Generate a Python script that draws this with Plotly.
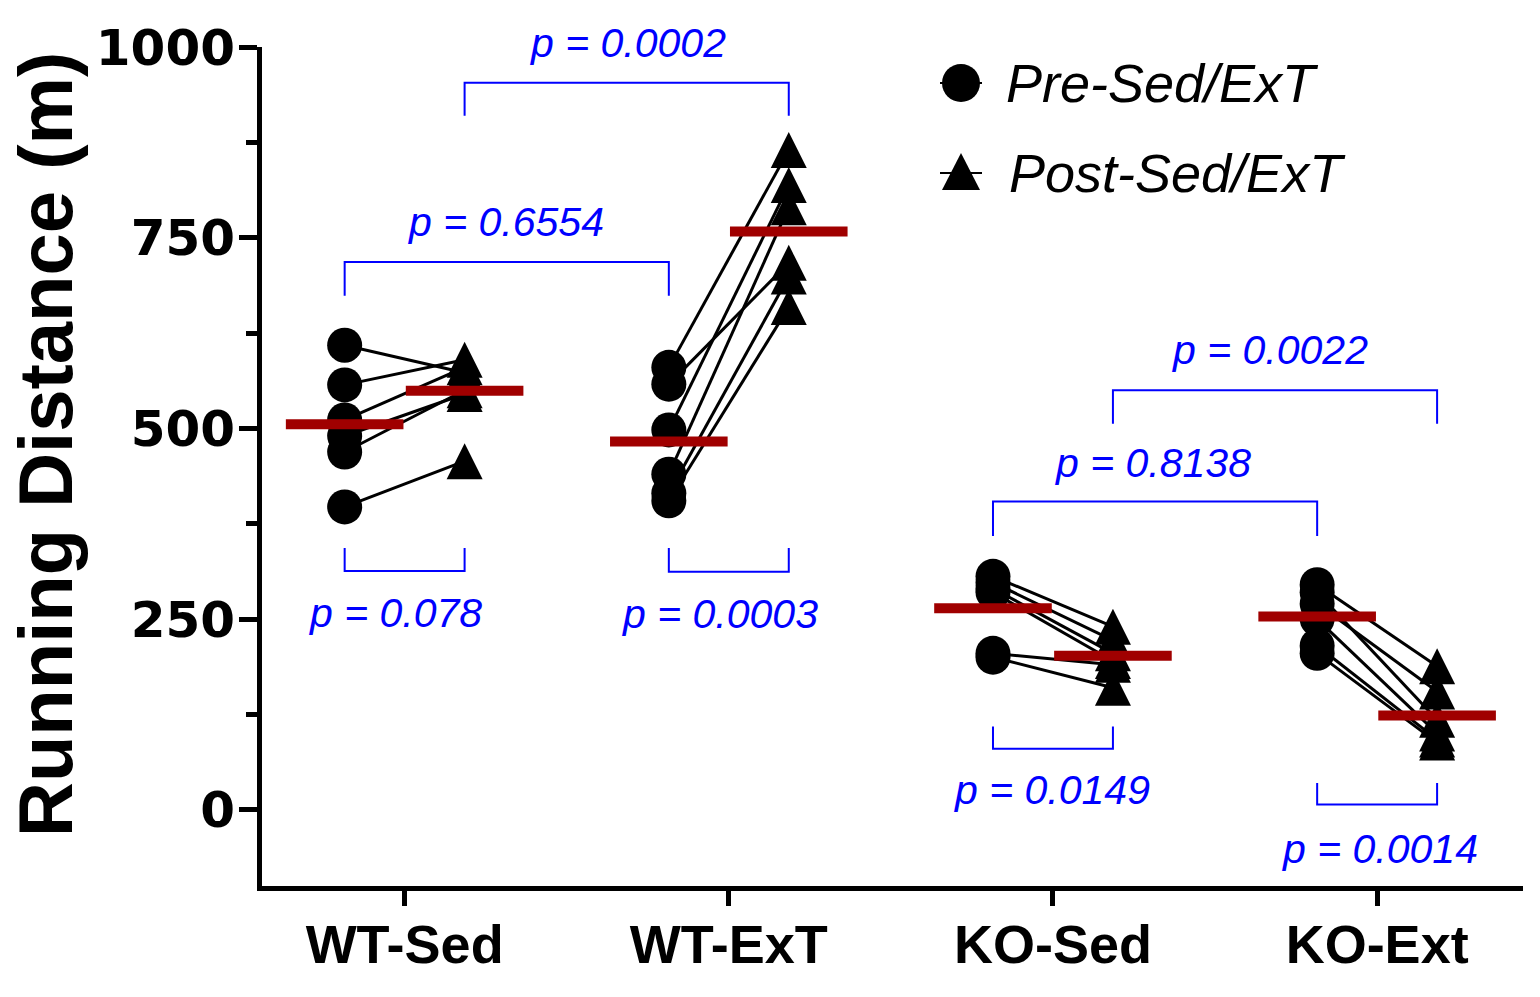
import numpy as np
import plotly.graph_objects as go

# ---------------- data ----------------
groups = ["WT-Sed", "WT-ExT", "KO-Sed", "KO-Ext"]

wt_sed_pre = [609, 557, 511, 490, 469, 397]
wt_sed_post = [573, 590, 580, 545, 550, 457]

wt_ext_pre = [580, 558, 498, 440, 415, 405]
wt_ext_post = [865, 717, 819, 790, 699, 659]

ko_sed_pre = [306, 298, 290, 285, 205, 200]
ko_sed_post = [240, 222, 205, 195, 190, 160]

ko_ext_pre = [295, 285, 270, 250, 215, 205]
ko_ext_post = [188, 118, 155, 100, 92, 88]

series_names = ["Pre-Sed/ExT", "Post-Sed/ExT"]

p_labels = ["p = 0.078", "p = 0.0003", "p = 0.6554", "p = 0.0002",
            "p = 0.0149", "p = 0.0014", "p = 0.8138", "p = 0.0022"]

pre_all = [wt_sed_pre, wt_ext_pre, ko_sed_pre, ko_ext_pre]
post_all = [wt_sed_post, wt_ext_post, ko_sed_post, ko_ext_post]

# ---------------- layout constants ----------------
OFF = 0.185
BLUE = "#0000FF"
RED = "#A00000"
YMIN, YMAX = -100, 1000
W, H = 1540, 997
# plot-area edges in pixels
L, R, T, B = 262, 1523, 47, 886


def xp(p):
    return (p - L) / (R - L)


def yp(p):
    return (B - p) / (B - T)


def ydata_to_paper(v):
    return (v - YMIN) / (YMAX - YMIN)


fig = go.Figure()

# connecting lines
lx, ly = [], []
for gi, (pre, post) in enumerate(zip(pre_all, post_all)):
    for a, b in zip(pre, post):
        lx += [gi - OFF, gi + OFF, None]
        ly += [a, b, None]
fig.add_trace(go.Scatter(x=lx, y=ly, mode="lines",
                         line=dict(color="black", width=3),
                         showlegend=False, hoverinfo="skip"))

# pre circles
px_, py_ = [], []
for gi, pre in enumerate(pre_all):
    px_ += [gi - OFF] * len(pre)
    py_ += pre
fig.add_trace(go.Scatter(x=px_, y=py_, mode="markers", name=series_names[0],
                         marker=dict(symbol="circle", size=35, color="black"),
                         showlegend=False, cliponaxis=False))

# post triangles (centered triangle)
qx_, qy_ = [], []
for gi, post in enumerate(post_all):
    qx_ += [gi + OFF] * len(post)
    qy_ += post
TRI = 36
fig.add_trace(go.Scatter(x=qx_, y=qy_, mode="markers", name=series_names[1],
                         marker=dict(symbol="arrow-down", size=TRI, color="black",
                                     angle=180, standoff=TRI / 2),
                         showlegend=False, cliponaxis=False))

# mean bars
mx, my = [], []
for gi, (pre, post) in enumerate(zip(pre_all, post_all)):
    mx += [gi - OFF, gi + OFF]
    my += [float(np.mean(pre)), float(np.mean(post))]
fig.add_trace(go.Scatter(x=mx, y=my, mode="markers",
                         marker=dict(symbol="line-ew", size=84,
                                     line=dict(color=RED, width=10)),
                         showlegend=False, hoverinfo="skip"))

# ---------------- brackets ----------------
# (x0, x1, bar_y, leg_end_y, text_x, text_y)
brackets = [
    (0 - OFF, 0 + OFF, 313, 343, 0 - 0.03, 258),
    (1 - OFF, 1 + OFF, 312, 343, 1 - 0.03, 256),
    (0 - OFF, 1 - OFF, 718, 674, 0.31, 771),
    (0 + OFF, 1 + OFF, 953, 910, 0.687, 1005),
    (2 - OFF, 2 + OFF, 80, 109, 2 - 0.003, 26),
    (3 - OFF, 3 + OFF, 7, 35, 3 + 0.008, -52),
    (2 - OFF, 3 - OFF, 404, 359, 2.308, 455),
    (2 + OFF, 3 + OFF, 550, 506, 2.669, 603),
]
shapes = []
annotations = []
for (x0, x1, yb, yl, tx, ty), lab in zip(brackets, p_labels):
    shapes.append(dict(type="path", xref="x", yref="y",
                       path=f"M {x0},{yl} L {x0},{yb} L {x1},{yb} L {x1},{yl}",
                       line=dict(color=BLUE, width=2)))
    annotations.append(dict(x=tx, y=ydata_to_paper(ty), xref="x", yref="paper",
                            text=lab, showarrow=False,
                            xanchor="center", yanchor="middle",
                            font=dict(family="Liberation Sans, Arial", size=41,
                                      color=BLUE, style="italic")))

# ---------------- legend (manual) ----------------
leg_x = xp(961)
for yy in (yp(83), yp(173)):
    shapes.append(dict(type="line", xref="paper", yref="paper",
                       xsizemode="pixel", ysizemode="pixel",
                       xanchor=leg_x, yanchor=yy, x0=-21, x1=21, y0=0, y1=0,
                       line=dict(color="black", width=2)))
shapes.append(dict(type="circle", xref="paper", yref="paper",
                   xsizemode="pixel", ysizemode="pixel",
                   xanchor=leg_x, yanchor=yp(83), x0=-19, x1=19, y0=-19, y1=19,
                   fillcolor="black", line=dict(color="black", width=0)))
shapes.append(dict(type="path", xref="paper", yref="paper",
                   xsizemode="pixel", ysizemode="pixel",
                   xanchor=leg_x, yanchor=yp(173),
                   path="M -19,-17 L 19,-17 L 0,20 Z",
                   fillcolor="black", line=dict(color="black", width=0)))
for name, xx, yy in zip(series_names, (xp(1004), xp(1007)), (yp(83), yp(173))):
    annotations.append(dict(x=xx, y=yy, xref="paper", yref="paper", text=name,
                            showarrow=False, xanchor="left", yanchor="middle",
                            font=dict(family="Liberation Sans, Arial", size=54,
                                      color="black", style="italic")))

# y-axis title
annotations.append(dict(x=xp(46), y=yp(445), xref="paper", yref="paper",
                        text="<b>Running Distance (m)</b>", textangle=-90,
                        showarrow=False, xanchor="center", yanchor="middle",
                        font=dict(family="Liberation Sans, Arial", size=76,
                                  color="black")))

fig.update_layout(
    width=W, height=H,
    margin=dict(l=L, r=W - R, t=T, b=H - B),
    plot_bgcolor="white", paper_bgcolor="white",
    showlegend=False,
    shapes=shapes, annotations=annotations,
    xaxis=dict(range=[-0.44, 3.45], tickvals=[0, 1, 2, 3], ticktext=groups,
               showgrid=False, zeroline=False, showline=True, linewidth=5,
               linecolor="black", ticks="outside", ticklen=15, tickwidth=5,
               tickcolor="black", ticklabelstandoff=-8,
               tickfont=dict(family="Liberation Sans, Arial", size=54,
                             color="black", weight="bold")),
    yaxis=dict(range=[YMIN, YMAX], tickvals=[0, 250, 500, 750, 1000],
               showgrid=False, zeroline=False, showline=True, linewidth=5,
               linecolor="black", ticks="outside", ticklen=18, tickwidth=5,
               tickcolor="black", ticklabelstandoff=-6,
               minor=dict(ticks="outside", dtick=125, tick0=0, ticklen=11,
                          tickwidth=5, tickcolor="black", showgrid=False),
               tickfont=dict(family="DejaVu Sans", size=50, color="black",
                             weight="bold")),
)

fig.write_html("out.html",
               config={"displayModeBar": False},
               post_script="document.body.style.margin='0';"
                           "document.body.style.overflow='hidden';")
